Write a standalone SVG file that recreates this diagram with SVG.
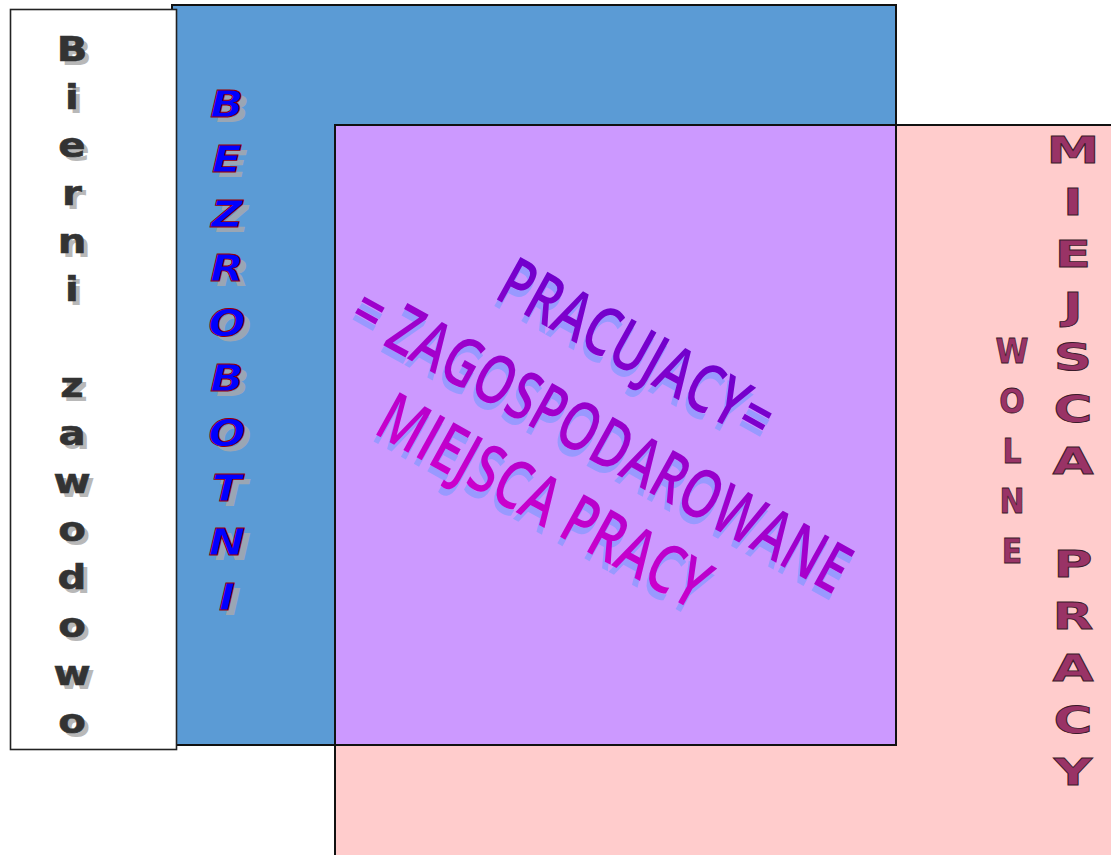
<svg xmlns="http://www.w3.org/2000/svg" xmlns:xlink="http://www.w3.org/1999/xlink" width="1111" height="855" viewBox="0 0 1111 855">
<style>
.box{stroke:#111;stroke-width:2}
.bierni{font-family:"DejaVu Sans",sans-serif;font-weight:bold;font-size:33px;text-anchor:middle}
.bez{font-family:"DejaVu Sans",sans-serif;font-weight:bold;font-style:italic;font-size:38px;text-anchor:middle}
.mj{font-family:"DejaVu Sans",sans-serif;font-weight:bold;font-size:38px;text-anchor:middle;fill:#993366;stroke:#3a1a2a;stroke-width:0.8}
.wol{font-family:"DejaVu Sans",sans-serif;font-weight:bold;font-size:34px;text-anchor:middle;fill:#993366;stroke:#3a1a2a;stroke-width:0.8}
.pr{font-family:"Open Sans",sans-serif;font-weight:600;font-size:68px}
</style>
<defs>
<linearGradient id="prg" gradientUnits="userSpaceOnUse" x1="0" y1="-30" x2="0" y2="200">
<stop offset="0" stop-color="#7000cc"/>
<stop offset="1" stop-color="#cc00cc"/>
</linearGradient>
<g id="bt" class="bierni">
<text x="0" y="61">B</text><text x="0" y="109">i</text><text x="0" y="157">e</text><text x="0" y="205">r</text><text x="0" y="253">n</text><text x="0" y="301">i</text>
<text x="0" y="397">z</text><text x="0" y="445">a</text><text x="0" y="493">w</text><text x="0" y="541">o</text><text x="0" y="589">d</text><text x="0" y="637">o</text><text x="0" y="685">w</text><text x="0" y="733">o</text>
</g>
<g id="bz" class="bez">
<text x="0" y="117">B</text><text x="0" y="172">E</text><text x="0" y="227">Z</text><text x="0" y="281">R</text><text x="0" y="336">O</text><text x="0" y="391">B</text><text x="0" y="446">O</text><text x="0" y="501">T</text><text x="0" y="555">N</text><text x="0" y="610">I</text>
</g>
<g id="pt" class="pr">
<text x="575" y="21" textLength="303" lengthAdjust="spacingAndGlyphs">PRACUJACY=</text>
<text x="460" y="116" textLength="558" lengthAdjust="spacingAndGlyphs">= ZAGOSPODAROWANE</text>
<text x="535" y="198" textLength="368" lengthAdjust="spacingAndGlyphs">MIEJSCA PRACY</text>
</g>
</defs>
<g id="wolne-miejsca">
<rect class="box" x="335" y="125" width="790" height="745" fill="#ffcccc"/>
<g transform="translate(1073,0) scale(1.4,1)" class="mj">
<text x="0" y="163">M</text><text x="0" y="215">I</text><text x="0" y="267">E</text><text x="0" y="319">J</text><text x="0" y="370">S</text><text x="0" y="422">C</text><text x="0" y="474">A</text>
<text x="0" y="577">P</text><text x="0" y="629">R</text><text x="0" y="681">A</text><text x="0" y="733">C</text><text x="0" y="785">Y</text>
</g>
<g transform="translate(1012,0) scale(0.88,1)" class="wol">
<text x="0" y="363">W</text><text x="0" y="413">O</text><text x="0" y="463">L</text><text x="0" y="513">N</text><text x="0" y="563">E</text>
</g>
</g>
<g id="bezrobotni">
<rect class="box" x="172" y="5" width="724" height="740" fill="#5b9bd5"/>
<g transform="translate(227,0) scale(1.15,1)">
<use xlink:href="#bz" href="#bz" transform="translate(5,5)" fill="#9aa6b4"/>
<use xlink:href="#bz" href="#bz" fill="#0000ff" stroke="#990000" stroke-width="0.9"/>
</g>
</g>
<g id="bierni-zawodowo">
<rect x="10.5" y="9.5" width="166" height="740" fill="#ffffff" stroke="#222" stroke-width="1.6"/>
<g transform="translate(72,0) scale(1.22,1)">
<use xlink:href="#bt" href="#bt" transform="translate(3.5,4)" fill="#b8b8b8"/>
<use xlink:href="#bt" href="#bt" fill="#333333" stroke="#333333" stroke-width="0.6"/>
</g>
</g>
<g id="pracujacy">
<rect class="box" x="335" y="125" width="561" height="620" fill="#cc99ff"/>
<g transform="rotate(29)">
<use xlink:href="#pt" href="#pt" transform="translate(1,7)" fill="#9999ff"/>
<use xlink:href="#pt" href="#pt" fill="url(#prg)"/>
</g>
</g>
</svg>
